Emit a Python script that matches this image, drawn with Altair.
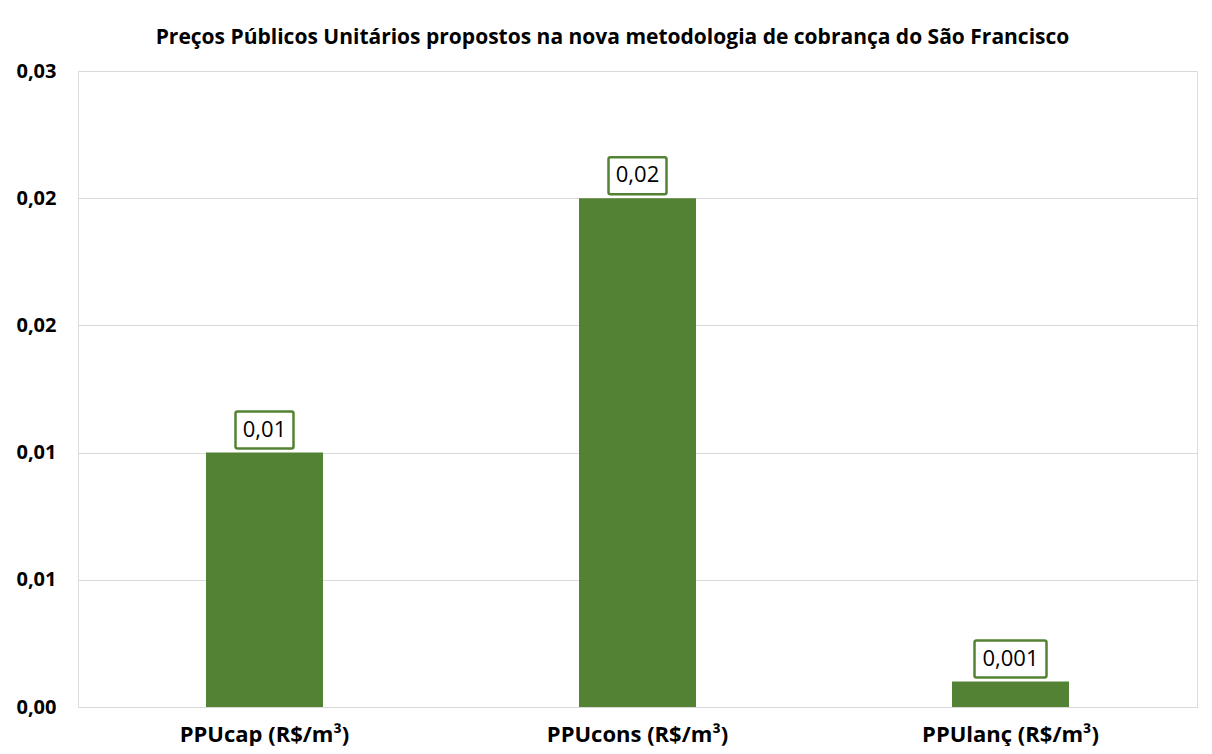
import altair as alt
import pandas as pd

categories = ["PPUcap (R$/m³)", "PPUcons (R$/m³)", "PPUlanç (R$/m³)"]
values = [0.01, 0.02, 0.001]
value_labels = ["0,01", "0,02", "0,001"]
y_ticks = [0, 0.005, 0.01, 0.015, 0.02, 0.025]
title = "Preços Públicos Unitários propostos  na nova metodologia de cobrança do São Francisco"

df = pd.DataFrame({"cat": categories, "value": values, "label": value_labels})

GREEN = "#548235"
FONT = "Open Sans"

x = alt.X("cat:N", sort=categories, title=None,
          scale=alt.Scale(paddingInner=0, paddingOuter=0),
          axis=alt.Axis(labelAngle=0, labelFont=FONT, labelFontWeight="bold",
                        labelFontSize=22, labelColor="#000000", labelPadding=17,
                        labelLimit=400,
                        ticks=False, domain=True, domainColor="#d9d9d9", grid=False))
y = alt.Y("value:Q", title=None,
          scale=alt.Scale(domain=[0, 0.025], nice=False),
          axis=alt.Axis(values=y_ticks, labelFont=FONT, labelFontWeight="bold",
                        labelFontSize=20, labelColor="#000000", labelPadding=22,
                        labelExpr="replace(format(datum.value + 1e-9, '.2f'), '.', ',')",
                        ticks=False, domain=False, grid=True, gridColor="#d9d9d9",
                        gridWidth=1))

base = alt.Chart(df)

bars = base.mark_bar(color=GREEN, width=117).encode(x=x, y=y)

box_common = dict(fill="white", stroke=GREEN, strokeWidth=2.5, cornerRadius=2,
                  yOffset=-41, y2Offset=-4)
boxes_short = base.transform_filter("length(datum.label) <= 4").mark_bar(
    width=58, **box_common).encode(x=x, y=y, y2="value:Q")
boxes_long = base.transform_filter("length(datum.label) > 4").mark_bar(
    width=72, **box_common).encode(x=x, y=y, y2="value:Q")

texts = base.mark_text(font=FONT, fontSize=22, color="#000000", baseline="middle",
                       align="center", dy=-23).encode(x=x, y=y, text="label:N")

chart = alt.layer(bars, boxes_short, boxes_long, texts).properties(
    width=1119, height=636,
    title=alt.TitleParams(title, font=FONT, fontSize=21, fontWeight="bold",
                          color="#000000", anchor="middle", frame="bounds", offset=13,
                          dx=6),
    autosize=alt.AutoSizeParams(type="none"),
    padding={"left": 70, "top": 63, "right": 7, "bottom": 39},
).configure_view(stroke=None).configure(background="white")

chart.save("out.html", embed_options={"renderer": "svg", "actions": False})
